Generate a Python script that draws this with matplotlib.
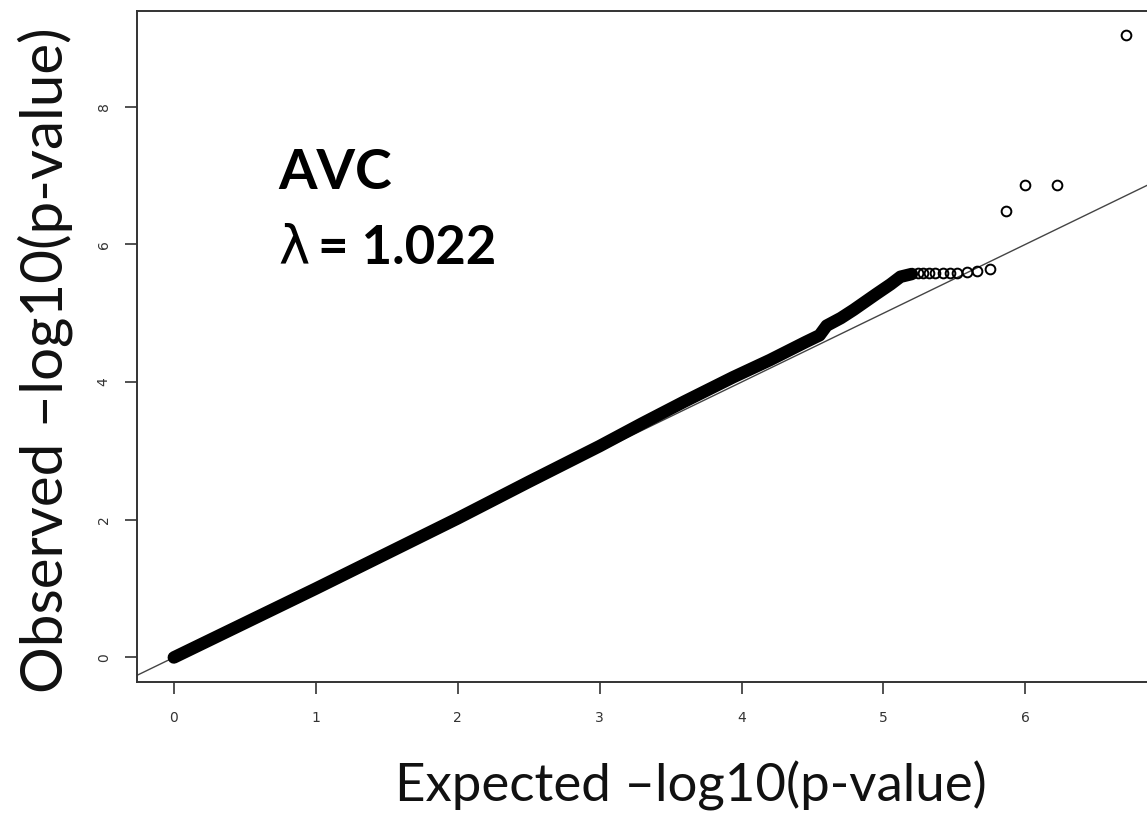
#!/usr/bin/env python3
"""QQ plot of observed vs expected -log10(p-value) for AVC."""

import matplotlib
matplotlib.use("Agg")
import matplotlib.pyplot as plt

# Dense body of the QQ curve (traced along the thick band)
band_expected = [0.0, 1.0, 2.0, 2.5, 3.0, 3.3, 3.6, 3.94, 4.2, 4.45, 4.55,
                 4.6, 4.7, 4.79, 4.95, 5.05, 5.12, 5.2]
band_observed = [0.0, 1.0, 2.02, 2.55, 3.07, 3.4, 3.72, 4.07, 4.32, 4.58, 4.68,
                 4.82, 4.93, 5.05, 5.28, 5.42, 5.53, 5.57]

# Individual points in the tail
tail_expected = [5.24, 5.28, 5.32, 5.36, 5.42, 5.47, 5.52, 5.59, 5.66, 5.75,
                 5.86, 6.0, 6.22, 6.71]
tail_observed = [5.58, 5.58, 5.58, 5.58, 5.58, 5.58, 5.59, 5.6, 5.61, 5.64,
                 6.48, 6.86, 6.86, 9.04]

x_ticks = [0, 1, 2, 3, 4, 5, 6]
y_ticks = [0, 2, 4, 6, 8]

plt.rcParams['font.family'] = ['Lato', 'DejaVu Sans']

fig = plt.figure(figsize=(11.47, 8.19), dpi=100)
ax = fig.add_axes([136.5 / 1147, 1 - 681.5 / 819, 1 - 136.5 / 1147, (681.5 - 11) / 819])

# expected line y = x
ax.axline((0, 0), slope=1, color='#444444', linewidth=1.0, zorder=1)

ax.plot(band_expected, band_observed, color='black', linewidth=9,
        solid_capstyle='round', solid_joinstyle='round', zorder=2)
ax.plot(tail_expected, tail_observed, linestyle='none', marker='o',
        markersize=7, markerfacecolor='none', markeredgecolor='black',
        markeredgewidth=1.4, zorder=3)

ax.set_xlim(-0.263, 6.857)
ax.set_ylim(-0.349, 9.39)
ax.set_xticks(x_ticks)
ax.set_yticks(y_ticks)
ax.set_xticklabels([str(t) for t in x_ticks], fontsize=10, color='#333333',
                   family='DejaVu Sans')
ax.set_yticklabels([str(t) for t in y_ticks], fontsize=10, color='#333333',
                   rotation=90, va='center', family='DejaVu Sans')
ax.tick_params(axis='both', length=8.5, width=1.2, color='#333333')
ax.tick_params(axis='x', pad=13)
ax.tick_params(axis='y', pad=10)

for side in ['left', 'bottom', 'top']:
    ax.spines[side].set_linewidth(1.4)
    ax.spines[side].set_color('#333333')
ax.spines['right'].set_visible(False)

fig.text(691 / 1147, 1 - 786 / 819, 'Expected \u2013log10(p-value)', fontsize=38,
         ha='center', va='center', color='#111111')
fig.text(45 / 1147, 1 - 360 / 819, 'Observed \u2013log10(p-value)', fontsize=42,
         ha='center', va='center', rotation=90, color='#111111')

ax.text(0.14, 0.735, 'AVC', transform=ax.transAxes, fontsize=40,
        fontweight='bold', ha='left', va='baseline')
ax.text(0.14, 0.623, '\u03bb', transform=ax.transAxes, fontsize=38,
        ha='left', va='baseline', family='DejaVu Sans')
ax.text(0.18, 0.623, '= 1.022', transform=ax.transAxes, fontsize=38,
        fontweight='bold', ha='left', va='baseline')

fig.savefig('out.png', dpi=100)
